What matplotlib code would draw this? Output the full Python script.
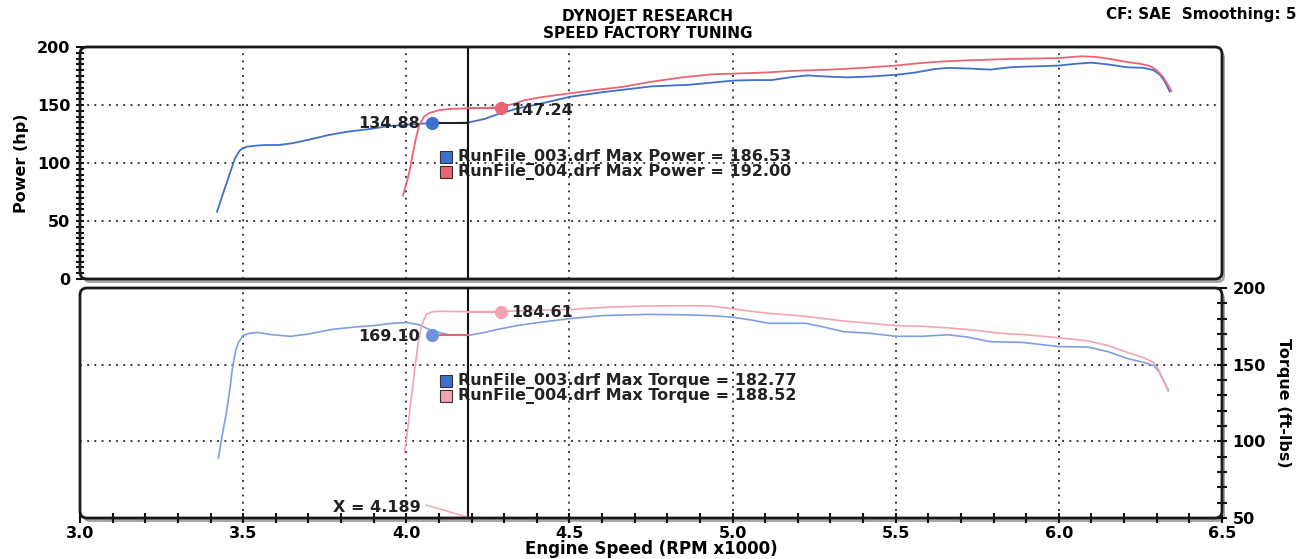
import matplotlib
matplotlib.use("Agg")
import matplotlib.pyplot as plt
from matplotlib.patches import FancyBboxPatch
import matplotlib.transforms as mtransforms
import numpy as np

# ---------------- data ----------------
rpm_003_power = [3.42, 3.44, 3.458, 3.475, 3.49, 3.51, 3.54, 3.57, 3.61, 3.65, 3.70, 3.76, 3.82, 3.88,
                 3.94, 4.00, 4.05, 4.10, 4.15, 4.19, 4.24, 4.28, 4.34, 4.41, 4.50, 4.60, 4.75, 4.87,
                 5.00, 5.06, 5.12, 5.18, 5.23, 5.29, 5.35, 5.42, 5.50, 5.56, 5.62, 5.66, 5.72, 5.79,
                 5.85, 5.89, 5.95, 6.00, 6.05, 6.10, 6.15, 6.21, 6.26, 6.29, 6.31, 6.325, 6.34]
hp_003 = [58, 75, 90, 104, 111, 114, 115, 115.5, 115.5, 117, 120, 124, 127, 129,
          131.5, 133, 134, 134.5, 134.5, 134.9, 138, 142, 147, 151, 157, 161, 166, 167.5,
          171, 171.5, 171.5, 174, 175.5, 174.5, 173.8, 174.5, 176, 178, 181, 182, 181.5, 180.5,
          182.5, 183, 183.5, 184, 185.5, 186.5, 185, 182.5, 182, 180, 176, 170, 161.5]

rpm_004_power = [3.99, 4.00, 4.01, 4.02, 4.03, 4.04, 4.055, 4.07, 4.10, 4.13, 4.19, 4.25, 4.29, 4.33,
                 4.36, 4.42, 4.50, 4.58, 4.66, 4.75, 4.85, 4.94, 5.00, 5.10, 5.19, 5.30, 5.40, 5.50,
                 5.57, 5.64, 5.72, 5.83, 5.92, 6.00, 6.07, 6.11, 6.14, 6.18, 6.21, 6.25, 6.28, 6.30,
                 6.32, 6.335, 6.345]
hp_004 = [72, 82, 93, 108, 122, 133, 140, 143, 145.5, 146.5, 147.2, 147.5, 148.5, 151,
          154, 157, 160, 163, 165.5, 170, 174, 176.5, 177, 178, 179.5, 180.5, 182, 184,
          186, 187.5, 188.5, 189.5, 190, 190.5, 192, 191.5, 190.5, 188.5, 187, 185.5, 183.5, 180,
          174, 167, 162]

rpm_003_torque = [3.424, 3.435, 3.449, 3.46, 3.468, 3.478, 3.487, 3.50, 3.52, 3.544, 3.59, 3.646, 3.70,
                  3.772, 3.84, 3.90, 3.96, 4.00, 4.04, 4.08, 4.13, 4.19, 4.24, 4.28, 4.34, 4.405, 4.50,
                  4.60, 4.74, 4.85, 4.93, 5.00, 5.06, 5.11, 5.17, 5.225, 5.28, 5.34, 5.42, 5.50, 5.58,
                  5.66, 5.72, 5.79, 5.89, 5.95, 6.00, 6.09, 6.15, 6.21, 6.26, 6.29, 6.305, 6.32, 6.335]
tq_003 = [89, 103, 119, 135, 149, 160, 165, 169, 170.5, 171, 169.5, 168.5, 170,
          173, 174.5, 175.5, 177, 177.5, 176, 172, 169.5, 169.1, 171, 173, 175.5, 177.5, 180,
          182, 182.8, 182.5, 182, 181, 179, 177, 177, 177, 174.5, 171.5, 170.5, 168.5, 168.5,
          169.5, 168, 165, 164.5, 163, 161.8, 161.5, 158.5, 154, 151.5, 149.5, 146, 140, 133]

rpm_004_torque = [3.994, 4.000, 4.006, 4.015, 4.025, 4.035, 4.044, 4.055, 4.063, 4.08, 4.10, 4.19, 4.28,
                  4.40, 4.50, 4.62, 4.74, 4.85, 4.93, 5.00, 5.05, 5.11, 5.17, 5.225, 5.28, 5.34, 5.42,
                  5.50, 5.58, 5.66, 5.74, 5.82, 5.90, 6.00, 6.09, 6.15, 6.21, 6.26, 6.29, 6.305, 6.32, 6.335]
tq_004 = [93, 100, 111, 128, 145, 162, 173, 180, 183, 184.5, 184.8, 184.6, 184.6,
          185.5, 186, 187.5, 188.3, 188.5, 188.3, 186.5, 185, 183.5, 182.5, 181.5, 180, 178.5, 177,
          175.5, 175, 174, 172.5, 170.5, 169.5, 167.5, 165.5, 162.5, 158, 154.5, 151.5, 147, 140, 134]

cursor_x = 4.189
power_marker_rpm = [4.078, 4.29]
power_marker_val = [134.88, 147.24]
torque_marker_rpm = [4.078, 4.29]
torque_marker_val = [169.10, 184.61]

legend_power = ["RunFile_003.drf Max Power = 186.53", "RunFile_004.drf Max Power = 192.00"]
legend_torque = ["RunFile_003.drf Max Torque = 182.77", "RunFile_004.drf Max Torque = 188.52"]

x_ticks = [3.0, 3.5, 4.0, 4.5, 5.0, 5.5, 6.0, 6.5]
power_ticks = [0, 50, 100, 150, 200]
torque_ticks = [50, 100, 150, 200]

# ---------------- style ----------------
W, H = 1306, 559
BLUE = "#3f6fcc"
RED = "#ec6474"
BLUE_T = "#7d9fe2"
RED_T = "#f4a3b2"
FONT = "DejaVu Sans"
FS = 11.5

plt.rcParams["font.family"] = [FONT]
plt.rcParams["font.weight"] = "bold"

fig = plt.figure(figsize=(W / 100, H / 100), dpi=100)
fig.patch.set_facecolor("white")

def px_rect(l, t, r, b):
    return [l / W, 1 - b / H, (r - l) / W, (b - t) / H]

ax1 = fig.add_axes(px_rect(80, 47, 1222, 279))
ax2 = fig.add_axes(px_rect(80, 288, 1222, 518))

pix = mtransforms.Affine2D().scale(1 / W, 1 / H) + fig.transFigure

def frame(ax):
    bb = ax.get_position()
    l, b, w, h = bb.x0 * W, bb.y0 * H, bb.width * W, bb.height * H
    shadow = FancyBboxPatch((l + 3, b - 4), w, h, boxstyle="round,pad=0,rounding_size=7",
                            transform=pix, facecolor="#a8a8a8", edgecolor="none", zorder=-2)
    fig.patches.append(shadow)
    border = FancyBboxPatch((l, b), w, h, boxstyle="round,pad=0,rounding_size=7",
                            transform=pix, facecolor="none", edgecolor="#1a1a1a", lw=2.0, zorder=5)
    fig.patches.append(border)
    for s in ax.spines.values():
        s.set_visible(False)
    ax.set_facecolor("white")

frame(ax1)
frame(ax2)

grid_kw = dict(color="#222222", lw=1.3, linestyle=(0, (1, 3)), zorder=1)

# ---------- power panel ----------
ax1.set_xlim(3.0, 6.5)
ax1.set_ylim(0, 200)
for xv in x_ticks[1:-1]:
    ax1.axvline(xv, **grid_kw)
for yv in power_ticks[1:-1]:
    ax1.axhline(yv, **grid_kw)
ax1.plot(rpm_003_power, hp_003, color=BLUE, lw=1.3, zorder=3)
ax1.plot(rpm_004_power, hp_004, color=RED, lw=1.3, zorder=3)
ax1.axvline(cursor_x, color="#111111", lw=1.5, zorder=4)
ax1.plot([power_marker_rpm[0], cursor_x], [power_marker_val[0]] * 2, color="#222222", lw=1.5, zorder=4)
ax1.plot([cursor_x, power_marker_rpm[1]], [power_marker_val[1]] * 2, color=RED, lw=1.5, zorder=4)
ax1.plot(power_marker_rpm[0], power_marker_val[0], "o", ms=8.5, color=BLUE, zorder=6)
ax1.plot(power_marker_rpm[1], power_marker_val[1], "o", ms=8.5, color=RED, zorder=6)
ax1.text(power_marker_rpm[0] - 0.035, power_marker_val[0] - 0.5, f"{power_marker_val[0]:.2f}",
         ha="right", va="center", fontsize=FS, fontweight="bold", color="#222222", zorder=7)
ax1.text(power_marker_rpm[1] + 0.03, power_marker_val[1] - 2, f"{power_marker_val[1]:.2f}",
         ha="left", va="center", fontsize=FS, fontweight="bold", color="#222222", zorder=7)

ax1.set_xticks([])
ax1.set_yticks(power_ticks)
ax1.set_yticks(np.arange(0, 201, 5), minor=True)
ax1.tick_params(axis="y", which="both", direction="inout", length=6, width=1.5, color="#111111",
                labelsize=FS, pad=4)
for lab in ax1.get_yticklabels():
    lab.set_fontweight("bold")
ax1.set_ylabel("Power (hp)", fontsize=FS, fontweight="bold", labelpad=6)

# ---------- torque panel ----------
ax2.set_xlim(3.0, 6.5)
ax2.set_ylim(50, 200)
for xv in x_ticks[1:-1]:
    ax2.axvline(xv, **grid_kw)
for yv in torque_ticks[1:-1]:
    ax2.axhline(yv, **grid_kw)
ax2.plot(rpm_003_torque, tq_003, color=BLUE_T, lw=1.2, zorder=3)
ax2.plot(rpm_004_torque, tq_004, color=RED_T, lw=1.2, zorder=3)
ax2.axvline(cursor_x, color="#111111", lw=1.5, zorder=4)
ax2.plot([torque_marker_rpm[0], cursor_x], [torque_marker_val[0]] * 2, color=RED, lw=1.5, zorder=4)
ax2.plot([cursor_x, torque_marker_rpm[1]], [torque_marker_val[1]] * 2, color=RED_T, lw=1.5, zorder=4)
ax2.plot(torque_marker_rpm[0], torque_marker_val[0], "o", ms=8.5, color="#6f93dc", zorder=6)
ax2.plot(torque_marker_rpm[1], torque_marker_val[1], "o", ms=8.5, color=RED_T, zorder=6)
ax2.text(torque_marker_rpm[0] - 0.035, torque_marker_val[0] - 1, f"{torque_marker_val[0]:.2f}",
         ha="right", va="center", fontsize=FS, fontweight="bold", color="#222222", zorder=7)
ax2.text(torque_marker_rpm[1] + 0.03, torque_marker_val[1] - 0.5, f"{torque_marker_val[1]:.2f}",
         ha="left", va="center", fontsize=FS, fontweight="bold", color="#222222", zorder=7)
ax2.text(4.045, 57, f"X = {cursor_x:.3f}", ha="right", va="center", fontsize=FS,
         fontweight="bold", color="#222222", zorder=7)
ax2.plot([4.06, cursor_x], [58.5, 50.5], color=RED_T, lw=1.0, zorder=4)

ax2.set_xticks(x_ticks)
ax2.set_xticks(np.arange(3.0, 6.51, 0.1), minor=True)
ax2.set_xticklabels([f"{v:.1f}" for v in x_ticks], fontweight="bold")
ax2.tick_params(axis="x", which="both", direction="inout", length=7, width=1.5, color="#111111",
                labelsize=FS, pad=2)
ax2.yaxis.tick_right()
ax2.yaxis.set_label_position("right")
ax2.set_yticks(torque_ticks)
ax2.set_yticks(np.arange(50, 201, 10), minor=True)
ax2.tick_params(axis="y", which="both", direction="inout", length=7, width=1.5, color="#111111",
                labelsize=FS, pad=4, right=True, left=False)
for lab in ax2.get_yticklabels():
    lab.set_fontweight("bold")
ax2.set_ylabel("Torque (ft-lbs)", fontsize=FS, fontweight="bold", rotation=270, labelpad=18)
fig.text(651 / W, 1 - 549 / H, "Engine Speed (RPM x1000)", ha="center", va="center",
         fontsize=12, fontweight="bold")

# ---------- legends (as text with swatches) ----------
def legend(labels, colors, y_rows):
    for lab, col, yr in zip(labels, colors, y_rows):
        fig.patches.append(plt.Rectangle((440 / W, 1 - (yr + 6) / H), 12 / W, 12 / H,
                                         transform=fig.transFigure, facecolor=col,
                                         edgecolor="#333333", lw=0.8, zorder=8))
        fig.text(458 / W, 1 - yr / H, lab, ha="left", va="center", fontsize=FS,
                 fontweight="bold", color="#222222", zorder=8)

legend(legend_power, [BLUE, RED], [157, 172])
legend(legend_torque, [BLUE, RED_T], [381, 396])

# ---------- titles ----------
fig.text(648 / W, 1 - 17 / H, "DYNOJET RESEARCH", ha="center", va="center", fontsize=11, fontweight="bold")
fig.text(648 / W, 1 - 34 / H, "SPEED FACTORY TUNING", ha="center", va="center", fontsize=11, fontweight="bold")
fig.text(1297 / W, 1 - 14 / H, "CF: SAE  Smoothing: 5", ha="right", va="center", fontsize=11, fontweight="bold")

fig.savefig("out.png", dpi=100, facecolor="white")
